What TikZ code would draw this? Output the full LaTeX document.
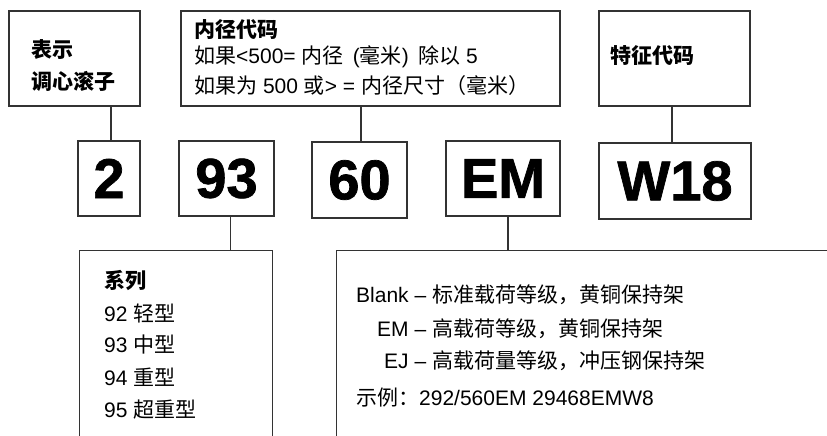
\documentclass[tikz,border=0pt]{standalone}
\usepackage{fontspec}
\setmainfont{Liberation Sans}
\newfontfamily\zh{Noto Sans CJK SC}
\newfontfamily\heavy[FakeBold=1.3]{Liberation Sans Bold}
\begin{document}
\begin{tikzpicture}[x=1pt,y=-1pt]
\tikzset{
  frame/.style={draw=black!80, line width=1.1pt, inner sep=0pt},
  code/.style={frame, font=\fontsize{56}{60}\heavy},
  txt/.style={anchor=west, inner sep=0pt, font=\fontsize{21}{25}\selectfont},
  hd/.style={txt, font=\fontsize{21}{25}\selectfont\bfseries},
  link/.style={draw=black!80, line width=1.1pt}
}
\useasboundingbox (0,0) rectangle (827,436);
% top boxes
\node[frame, minimum width=131, minimum height=95] (b1) at (74.5,58.5) {};
\node[frame, minimum width=379, minimum height=95] (b2) at (370.5,58.5) {};
\node[frame, minimum width=151, minimum height=95] (b3) at (674.5,58.5) {};
% code boxes
\node[code, minimum width=62, minimum height=75] (c1) at (109,178.5) {2};
\node[code, minimum width=95, minimum height=75] (c2) at (226.5,178.5) {93};
\node[code, minimum width=95, minimum height=76] (c3) at (359.5,180) {60};
\node[code, minimum width=114, minimum height=75] (c4) at (503,178.5) {EM};
\node[code, minimum width=152, minimum height=76] (c5) at (675,181) {W18};
% bottom open boxes
\node[minimum width=192, minimum height=185, inner sep=0pt] (s1) at (176,343.5) {};
\node[minimum width=490, minimum height=185, inner sep=0pt] (s2) at (582,343.5) {};
\draw[link] (s1.south west) -- (s1.north west) -- (s1.north east) -- (s1.south east);
\draw[link] (s2.south west) -- (s2.north west) -- (s2.north east);
% connectors
\draw[link] ([xshift=2]c1.north) -- ([xshift=2]c1.north |- b1.south);
\draw[link] ([xshift=1.5]c3.north) -- ([xshift=1.5]c3.north |- b2.south);
\draw[link] ([xshift=-3]c5.north) -- ([xshift=-3]c5.north |- b3.south);
\draw[link] ([xshift=4]c2.south) -- ([xshift=4]c2.south |- s1.north);
\draw[link] ([xshift=5]c4.south) -- ([xshift=5]c4.south |- s2.north);
% texts top
\node[hd] (t1a) at (31,50) {\zh\bfseries 表示};
\node[hd] (t1b) at (31,81) {\zh\bfseries 调心滚子};
\node[hd] (t2a) at (194,30) {\zh\bfseries 内径代码};
\node[txt] (t2b) at (194,57) {{\zh 如果}<500= {\zh 内径} \,({\zh 毫米})\, {\zh 除以} 5};
\node[txt] (t2c) at (194,86) {{\zh 如果为} 500 {\zh 或}> = {\zh 内径尺寸（毫米）}};
\node[hd] (t3a) at (610,56) {\zh\bfseries 特征代码};
% series
\node[hd] (s1h) at (104,281) {\zh\bfseries 系列};
\node[txt] (s1a) at (104,313) {92 {\zh 轻型}};
\node[txt] (s1b) at (104,345) {93 {\zh 中型}};
\node[txt] (s1c) at (104,377) {94 {\zh 重型}};
\node[txt] (s1d) at (104,410) {95 {\zh 超重型}};
% cage
\node[txt] (r1) at (356,295) {Blank – {\zh 标准载荷等级，黄铜保持架}};
\node[txt] (r2) at (356,329) {\hphantom{Blank}\llap{EM} – {\zh 高载荷等级，黄铜保持架}};
\node[txt] (r3) at (356,361) {\hphantom{Blank}\llap{EJ} – {\zh 高载荷量等级，冲压钢保持架}};
\node[txt] (r4) at (356,398) {{\zh 示例：}292/560EM 29468EMW8};
\end{tikzpicture}
\end{document}
